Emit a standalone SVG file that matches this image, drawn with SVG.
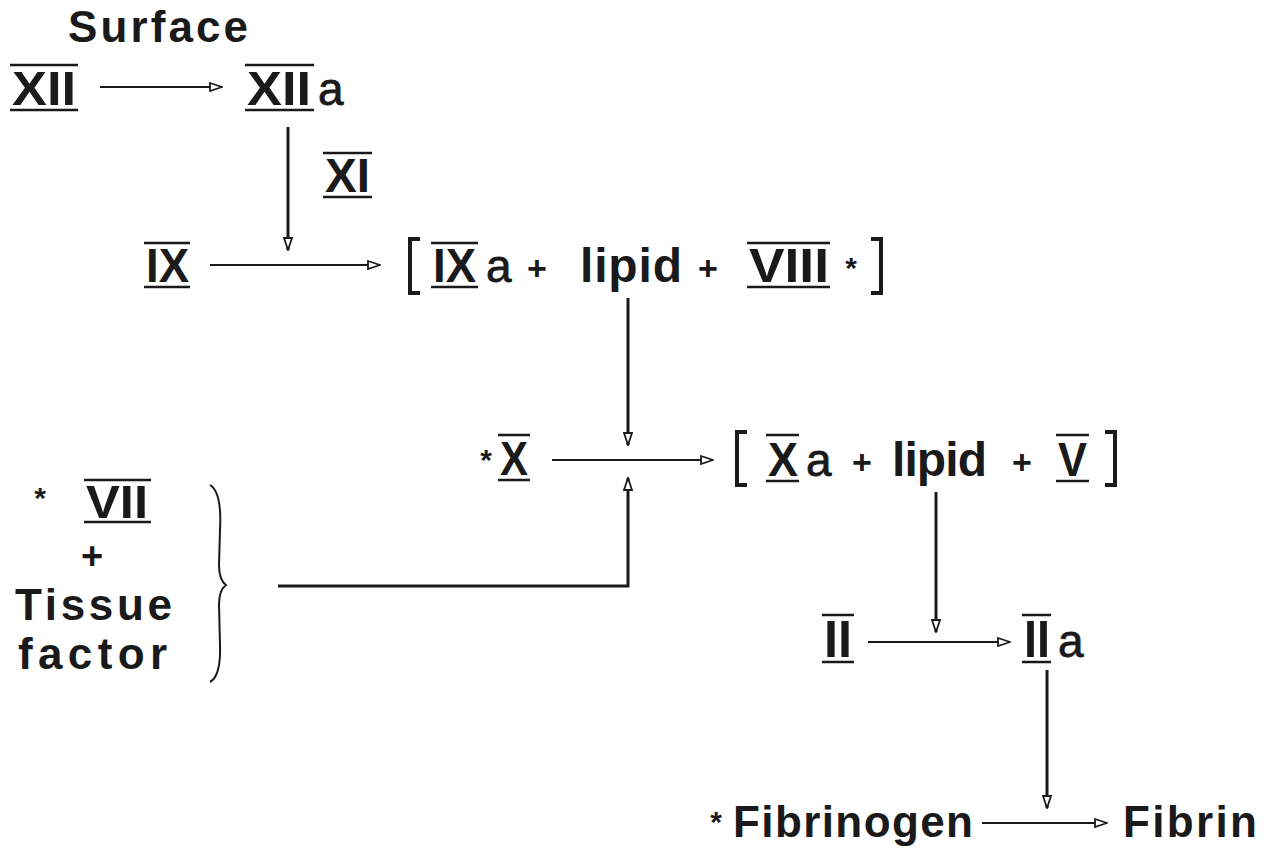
<svg xmlns="http://www.w3.org/2000/svg" width="1275" height="849" viewBox="0 0 1275 849">
<defs>
<style>
.t{font-family:"Liberation Sans",Arial,sans-serif;font-weight:bold;fill:#1a1a1a}
.n{font-family:"Liberation Sans",Arial,sans-serif;font-weight:normal;fill:#1a1a1a;stroke:#1a1a1a;stroke-width:0.8}
.bar{stroke:#1a1a1a;stroke-width:2.5}
.ln{stroke:#1a1a1a;stroke-width:2;fill:none}
.v{stroke-width:3}
.br{stroke:#1a1a1a;stroke-width:4;fill:none}
</style>
<marker id="ah" viewBox="0 0 14 10" refX="13" refY="5" markerWidth="14" markerHeight="10" markerUnits="userSpaceOnUse" orient="auto">
<path d="M1,1 L13,5 L1,9 Z" fill="#fff" stroke="#1a1a1a" stroke-width="1.8"/>
</marker>
</defs>
<rect width="1275" height="849" fill="#fff"/>

<g id="surface"><text class="t" x="68" y="42" font-size="44" textLength="180">Surface</text></g>

<g id="XII">
<path class="bar" d="M10,65 H78 M10,110 H78"/>
<text class="t" x="12" y="105" font-size="48" textLength="64" lengthAdjust="spacingAndGlyphs">XII</text>
</g>

<g id="XIIa">
<path class="bar" d="M245,65 H314 M245,110 H314"/>
<text class="t" x="247" y="105" font-size="48" textLength="64" lengthAdjust="spacingAndGlyphs">XII</text>
<text class="n" x="318" y="105" font-size="46">a</text>
</g>

<g id="XI">
<path class="bar" d="M323,153 H372 M323,197 H372"/>
<text class="t" x="325" y="192" font-size="48" textLength="45" lengthAdjust="spacingAndGlyphs">XI</text>
</g>

<g id="IX">
<path class="bar" d="M144,243 H190 M144,287 H190"/>
<text class="t" x="146" y="282" font-size="48" textLength="43" lengthAdjust="spacingAndGlyphs">IX</text>
</g>

<g id="IXa-complex">
<path class="br" d="M420,239 H410 V293 H420"/>
<path class="bar" d="M431,243 H478 M431,287 H478"/>
<text class="t" x="433" y="282" font-size="48" textLength="43" lengthAdjust="spacingAndGlyphs">IX</text>
<text class="n" x="486" y="282" font-size="46">a</text>
<text class="t" x="537" y="280" font-size="34" text-anchor="middle">+</text>
<text class="t" x="580" y="282" font-size="48" textLength="102">lipid</text>
<text class="t" x="708" y="280" font-size="34" text-anchor="middle">+</text>
<path class="bar" d="M747,243 H830 M747,287 H830"/>
<text class="t" x="749" y="282" font-size="48" textLength="80" lengthAdjust="spacingAndGlyphs">VIII</text>
<text class="t" x="851" y="278" font-size="30" text-anchor="middle">*</text>
<path class="br" d="M871,239 H881 V293 H871"/>
</g>

<g id="X">
<text class="t" x="486" y="470" font-size="30" text-anchor="middle">*</text>
<path class="bar" d="M498,435 H530 M498,480 H530"/>
<text class="t" x="500" y="475" font-size="48" textLength="28" lengthAdjust="spacingAndGlyphs">X</text>
</g>

<g id="Xa-complex">
<path class="br" d="M747,432 H737 V485 H747"/>
<path class="bar" d="M766,435 H799 M766,481 H799"/>
<text class="t" x="768" y="476" font-size="48" textLength="30" lengthAdjust="spacingAndGlyphs">X</text>
<text class="n" x="806" y="476" font-size="46">a</text>
<text class="t" x="862" y="474" font-size="34" text-anchor="middle">+</text>
<text class="t" x="892" y="476" font-size="48" textLength="95">lipid</text>
<text class="t" x="1022" y="474" font-size="34" text-anchor="middle">+</text>
<path class="bar" d="M1056,435 H1089 M1056,481 H1089"/>
<text class="t" x="1058" y="476" font-size="48" textLength="29" lengthAdjust="spacingAndGlyphs">V</text>
<path class="br" d="M1105,432 H1115 V485 H1105"/>
</g>

<g id="VII-TF">
<text class="t" x="40" y="508" font-size="30" text-anchor="middle">*</text>
<path class="bar" d="M84,480 H151 M84,522 H151"/>
<text class="t" x="86" y="518" font-size="46" textLength="62" lengthAdjust="spacingAndGlyphs">VII</text>
<text class="t" x="92" y="569" font-size="38" text-anchor="middle">+</text>
<text class="t" x="15" y="620" font-size="44" textLength="157">Tissue</text>
<text class="t" x="18" y="669" font-size="44" textLength="149">factor</text>
<path class="ln" stroke-width="3" d="M210,485 Q222,492 220,530 L219,565 Q219,580 226,585 Q219,590 219,605 L220,645 Q221,676 210,682"/>
</g>

<g id="II">
<path class="bar" d="M822,615 H854 M822,662 H854"/>
<text class="t" x="824" y="657" font-size="52" textLength="28" lengthAdjust="spacingAndGlyphs">II</text>
</g>

<g id="IIa">
<path class="bar" d="M1022,615 H1051 M1022,662 H1051"/>
<text class="t" x="1024" y="657" font-size="52" textLength="26" lengthAdjust="spacingAndGlyphs">II</text>
<text class="n" x="1058" y="657" font-size="46">a</text>
</g>

<g id="fibrinogen">
<text class="t" x="716" y="832" font-size="30" text-anchor="middle">*</text>
<text class="t" x="733" y="837" font-size="44" textLength="240">Fibrinogen</text>
</g>

<g id="fibrin">
<text class="t" x="1123" y="837" font-size="44" textLength="134">Fibrin</text>
</g>

<g id="connectors" class="ln">
<path d="M100,87 H222" marker-end="url(#ah)"/>
<path class="v" d="M288,127 V250" marker-end="url(#ah)"/>
<path d="M210,265 H380" marker-end="url(#ah)"/>
<path class="v" d="M628,298 V445" marker-end="url(#ah)"/>
<path d="M552,460 H713" marker-end="url(#ah)"/>
<path class="v" d="M278,586 H628 V478" marker-end="url(#ah)"/>
<path class="v" d="M936,492 V632" marker-end="url(#ah)"/>
<path d="M868,642 H1010" marker-end="url(#ah)"/>
<path class="v" d="M1047,670 V808" marker-end="url(#ah)"/>
<path d="M982,823 H1107" marker-end="url(#ah)"/>
</g>
</svg>
